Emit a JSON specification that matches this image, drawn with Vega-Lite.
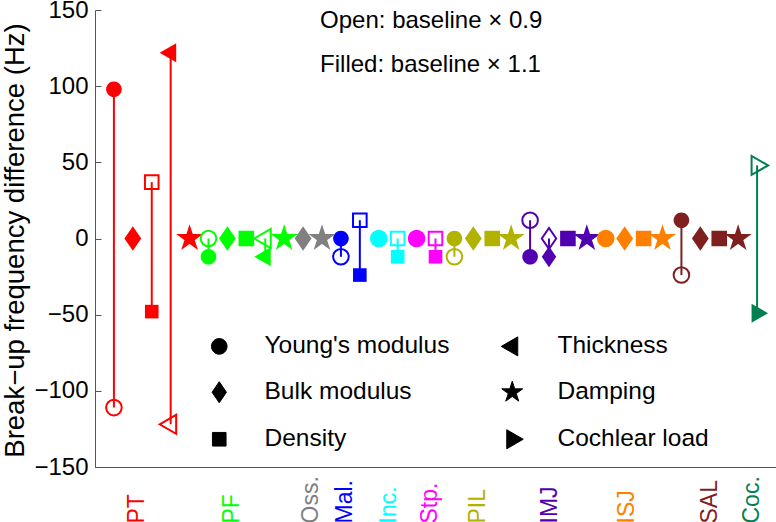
{
  "$schema": "https://vega.github.io/schema/vega-lite/v6.json",
  "width": 681,
  "height": 457,
  "autosize": {"type": "none"},
  "padding": {"left": 95, "top": 10, "right": 0, "bottom": 55},
  "background": "white",
  "config": {
    "view": {"stroke": null},
    "font": "Liberation Sans",
    "axis": {"grid": false, "domainColor": "#555555", "tickColor": "#555555", "labelColor": "black", "titleColor": "black", "titleFontWeight": "normal"}
  },
  "datasets": {
    "params": [
      {"grp": "PT", "param": "Young's modulus", "idx": 1, "open": -111, "filled": 98},
      {"grp": "PT", "param": "Bulk modulus", "idx": 2, "open": 0, "filled": 0},
      {"grp": "PT", "param": "Density", "idx": 3, "open": 37, "filled": -48},
      {"grp": "PT", "param": "Thickness", "idx": 4, "open": -122, "filled": 122},
      {"grp": "PT", "param": "Damping", "idx": 5, "open": 0, "filled": 0},
      {"grp": "PF", "param": "Young's modulus", "idx": 6, "open": 0, "filled": -12},
      {"grp": "PF", "param": "Bulk modulus", "idx": 7, "open": 0, "filled": 0},
      {"grp": "PF", "param": "Density", "idx": 8, "open": 0, "filled": 0},
      {"grp": "PF", "param": "Thickness", "idx": 9, "open": 0, "filled": -12},
      {"grp": "PF", "param": "Damping", "idx": 10, "open": 0, "filled": 0},
      {"grp": "Oss.", "param": "Bulk modulus", "idx": 11, "open": 0, "filled": 0},
      {"grp": "Oss.", "param": "Damping", "idx": 12, "open": 0, "filled": 0},
      {"grp": "Mal.", "param": "Young's modulus", "idx": 13, "open": -12, "filled": 0},
      {"grp": "Mal.", "param": "Density", "idx": 14, "open": 12, "filled": -24},
      {"grp": "Inc.", "param": "Young's modulus", "idx": 15, "open": 0, "filled": 0},
      {"grp": "Inc.", "param": "Density", "idx": 16, "open": 0, "filled": -12},
      {"grp": "Stp.", "param": "Young's modulus", "idx": 17, "open": 0, "filled": 0},
      {"grp": "Stp.", "param": "Density", "idx": 18, "open": 0, "filled": -12},
      {"grp": "PIL", "param": "Young's modulus", "idx": 19, "open": -12, "filled": 0},
      {"grp": "PIL", "param": "Bulk modulus", "idx": 20, "open": 0, "filled": 0},
      {"grp": "PIL", "param": "Density", "idx": 21, "open": 0, "filled": 0},
      {"grp": "PIL", "param": "Damping", "idx": 22, "open": 0, "filled": 0},
      {"grp": "IMJ", "param": "Young's modulus", "idx": 23, "open": 12, "filled": -12},
      {"grp": "IMJ", "param": "Bulk modulus", "idx": 24, "open": 0, "filled": -12},
      {"grp": "IMJ", "param": "Density", "idx": 25, "open": 0, "filled": 0},
      {"grp": "IMJ", "param": "Damping", "idx": 26, "open": 0, "filled": 0},
      {"grp": "ISJ", "param": "Young's modulus", "idx": 27, "open": 0, "filled": 0},
      {"grp": "ISJ", "param": "Bulk modulus", "idx": 28, "open": 0, "filled": 0},
      {"grp": "ISJ", "param": "Density", "idx": 29, "open": 0, "filled": 0},
      {"grp": "ISJ", "param": "Damping", "idx": 30, "open": 0, "filled": 0},
      {"grp": "SAL", "param": "Young's modulus", "idx": 31, "open": -24, "filled": 12},
      {"grp": "SAL", "param": "Bulk modulus", "idx": 32, "open": 0, "filled": 0},
      {"grp": "SAL", "param": "Density", "idx": 33, "open": 0, "filled": 0},
      {"grp": "SAL", "param": "Damping", "idx": 34, "open": 0, "filled": 0},
      {"grp": "Coc.", "param": "Cochlear load", "idx": 35, "open": 48, "filled": -49}
    ],
    "notes": [
      {"nx": 11.9, "ny": 143, "t": "Open: baseline × 0.9"},
      {"nx": 11.9, "ny": 114, "t": "Filled: baseline × 1.1"}
    ]
  },
  "layer": [
    {
      "mark": {"type": "rule", "color": "#808080", "strokeWidth": 1.5},
      "encoding": {
        "y": {"datum": 0, "type": "quantitative", "title": "Break−up frequency difference (Hz)", "scale": {"domain": [-150, 150], "nice": false, "zero": false}}
      }
    },
    {
      "data": {"name": "params"},
      "mark": {"type": "rule", "strokeWidth": 2},
      "encoding": {
        "x": {"field": "idx", "type": "quantitative", "title": null},
        "y": {"field": "open", "type": "quantitative", "title": "Break−up frequency difference (Hz)"},
        "y2": {"field": "filled"},
        "color": {"field": "grp", "type": "nominal", "legend": null}
      }
    },
    {
      "data": {"name": "params"},
      "mark": {"type": "point", "filled": true, "size": 400, "strokeWidth": 1, "opacity": 1},
      "encoding": {
        "x": {
          "field": "idx", "type": "quantitative", "title": null,
          "scale": {"domain": [0, 36], "nice": false, "zero": false},
          "axis": {
            "title": null,
            "values": [2.17, 7.2, 11.4, 13.2, 15.5, 17.7, 20.2, 24.0, 28.1, 32.5, 34.7],
            "labelExpr": "abs(datum.value-2.17)<0.05?'PT':abs(datum.value-7.2)<0.05?'PF':abs(datum.value-11.4)<0.05?'Oss.':abs(datum.value-13.2)<0.05?'Mal.':abs(datum.value-15.5)<0.05?'Inc.':abs(datum.value-17.7)<0.05?'Stp.':abs(datum.value-20.2)<0.05?'PIL':abs(datum.value-24.0)<0.05?'IMJ':abs(datum.value-28.1)<0.05?'ISJ':abs(datum.value-32.5)<0.05?'SAL':'Coc.'",
            "ticks": false,
            "labelAngle": 270,
            "labelAlign": "left",
            "labelBaseline": "middle",
            "labelPadding": 56,
            "labelFontSize": 23,
            "labelOverlap": false,
            "labelBound": false,
            "labelFlush": false,
            "domainWidth": 1,
            "labelColor": {
              "condition": [
                {"test": "abs(datum.value-2.17)<0.05", "value": "#FF0000"},
                {"test": "abs(datum.value-7.2)<0.05", "value": "#00FF00"},
                {"test": "abs(datum.value-11.4)<0.05", "value": "#808080"},
                {"test": "abs(datum.value-13.2)<0.05", "value": "#0000FF"},
                {"test": "abs(datum.value-15.5)<0.05", "value": "#00FFFF"},
                {"test": "abs(datum.value-17.7)<0.05", "value": "#FF00FF"},
                {"test": "abs(datum.value-20.2)<0.05", "value": "#B2B200"},
                {"test": "abs(datum.value-24.0)<0.05", "value": "#5000B0"},
                {"test": "abs(datum.value-28.1)<0.05", "value": "#FF8000"},
                {"test": "abs(datum.value-32.5)<0.05", "value": "#7F1F1F"}
              ],
              "value": "#008050"
            }
          }
        },
        "y": {
          "field": "filled", "type": "quantitative",
          "title": "Break−up frequency difference (Hz)",
          "axis": {
            "title": "Break−up frequency difference (Hz)",
            "values": [-150, -100, -50, 0, 50, 100, 150],
            "labelFontSize": 24,
            "titleFontSize": 27.5,
            "titleX": -72,
            "titleY": 230,
            "titleAngle": 270,
            "titleAlign": "center",
            "titleBaseline": "alphabetic",
            "tickSize": -6,
            "labelPadding": 13,
            "domainWidth": 1
          }
        },
        "color": {
          "field": "grp", "type": "nominal", "legend": null,
          "scale": {
            "domain": ["PT", "PF", "Oss.", "Mal.", "Inc.", "Stp.", "PIL", "IMJ", "ISJ", "SAL", "Coc."],
            "range": ["#FF0000", "#00FF00", "#808080", "#0000FF", "#00FFFF", "#FF00FF", "#B2B200", "#5000B0", "#FF8000", "#7F1F1F", "#008050"]
          }
        },
        "shape": {
          "field": "param", "type": "nominal",
          "scale": {
            "domain": ["Young's modulus", "Bulk modulus", "Density", "Thickness", "Damping", "Cochlear load"],
            "range": [
              "M0.78,0A0.78,0.78,0,1,1,-0.78,0A0.78,0.78,0,1,1,0.78,0Z",
              "M0,-1.05L0.72,0L0,1.05L-0.72,0Z",
              "M-0.68,-0.68L0.68,-0.68L0.68,0.68L-0.68,0.68Z",
              "M-1.1,0L0.55,-0.95L0.55,0.95Z",
              "M0,-1.1L0.247,-0.34L1.046,-0.34L0.4,0.13L0.647,0.89L0,0.42L-0.647,0.89L-0.4,0.13L-1.046,-0.34L-0.247,-0.34Z",
              "M1.1,0L-0.55,-0.95L-0.55,0.95Z"
            ]
          },
          "legend": {
            "orient": "none",
            "legendX": 112,
            "legendY": 324,
            "columns": 2,
            "title": null,
            "symbolSize": 400,
            "symbolFillColor": "black",
            "symbolStrokeColor": "black",
            "symbolStrokeWidth": 1,
            "symbolOpacity": 1,
            "labelFontSize": 24.5,
            "labelColor": "black",
            "labelOffset": 33,
            "columnPadding": 49,
            "rowPadding": 21,
            "padding": 0,
            "labelLimit": 400
          }
        }
      }
    },
    {
      "data": {"name": "params"},
      "mark": {"type": "point", "filled": false, "size": 400, "strokeWidth": 2, "opacity": 1},
      "encoding": {
        "x": {"field": "idx", "type": "quantitative", "title": null},
        "y": {"field": "open", "type": "quantitative", "title": "Break−up frequency difference (Hz)"},
        "color": {"field": "grp", "type": "nominal", "legend": null},
        "shape": {"field": "param", "type": "nominal", "legend": null}
      }
    },
    {
      "data": {"name": "notes"},
      "mark": {"type": "text", "align": "left", "baseline": "middle", "fontSize": 24, "color": "black"},
      "encoding": {
        "x": {"field": "nx", "type": "quantitative", "title": null},
        "y": {"field": "ny", "type": "quantitative", "title": "Break−up frequency difference (Hz)"},
        "text": {"field": "t"}
      }
    }
  ]
}
